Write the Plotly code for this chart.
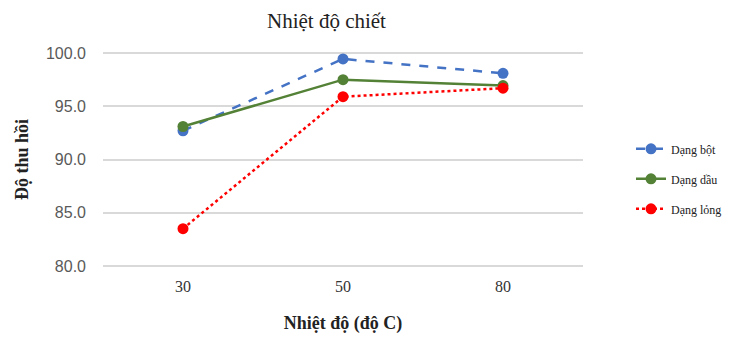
import plotly.graph_objects as go

categories = ["30", "50", "80"]
dang_bot = [92.7, 99.45, 98.1]
dang_dau = [93.1, 97.5, 96.95]
dang_long = [83.5, 95.9, 96.7]
series_names = ["Dạng bột", "Dạng dầu", "Dạng lỏng"]
y_ticks = [80, 85, 90, 95, 100]

fig = go.Figure()
fig.add_trace(go.Scatter(x=categories, y=dang_bot, name=series_names[0], mode="lines+markers",
                         line=dict(color="#4472C4", width=2.5, dash="dash"),
                         marker=dict(size=11, color="#4472C4"), legendgroup="a"))
fig.add_trace(go.Scatter(x=categories, y=dang_dau, name=series_names[1], mode="lines+markers",
                         line=dict(color="#538135", width=2.5),
                         marker=dict(size=11, color="#538135"), legendgroup="b"))
fig.add_trace(go.Scatter(x=categories, y=dang_long, name=series_names[2], mode="lines+markers",
                         line=dict(color="#FF0000", width=2.5, dash="dot"),
                         marker=dict(size=11, color="#FF0000"), legendgroup="c"))

fig.update_layout(
    width=742, height=338,
    margin=dict(l=103, r=159, t=52, b=71),
    paper_bgcolor="white", plot_bgcolor="white",
    title=dict(text="Nhiệt độ chiết", x=0.44, xanchor="center", y=0.94, yanchor="middle",
               font=dict(family="Liberation Serif", size=21, color="#222")),
    showlegend=True,
    legend=dict(x=1.1, xanchor="left", y=0.41, yanchor="middle",
                font=dict(family="Liberation Serif", size=12, color="#222"),
                tracegroupgap=11, bgcolor="rgba(0,0,0,0)"),
    xaxis=dict(type="category", range=[-0.5, 2.5], showgrid=False, showline=False,
               zeroline=False, ticks="", ticklabelstandoff=8, automargin=False,
               tickfont=dict(family="Liberation Serif", size=16, color="#333"),
               title=dict(text="<b>Nhiệt độ (độ C)</b>", standoff=22,
                          font=dict(family="Liberation Serif", size=18, color="#222"))),
    yaxis=dict(range=[79.9, 100.1], tickvals=y_ticks, tickformat=".1f", automargin=False,
               showgrid=True, gridcolor="#D9D9D9", gridwidth=1.5, zeroline=False,
               showline=False, ticks="", ticklabelstandoff=16,
               tickfont=dict(family="Liberation Sans", size=16, color="#595959"),
               title=dict(text="<b>Độ thu hồi</b>", standoff=12,
                          font=dict(family="Liberation Serif", size=18, color="#222"))),
)

fig.write_html("out.html")
